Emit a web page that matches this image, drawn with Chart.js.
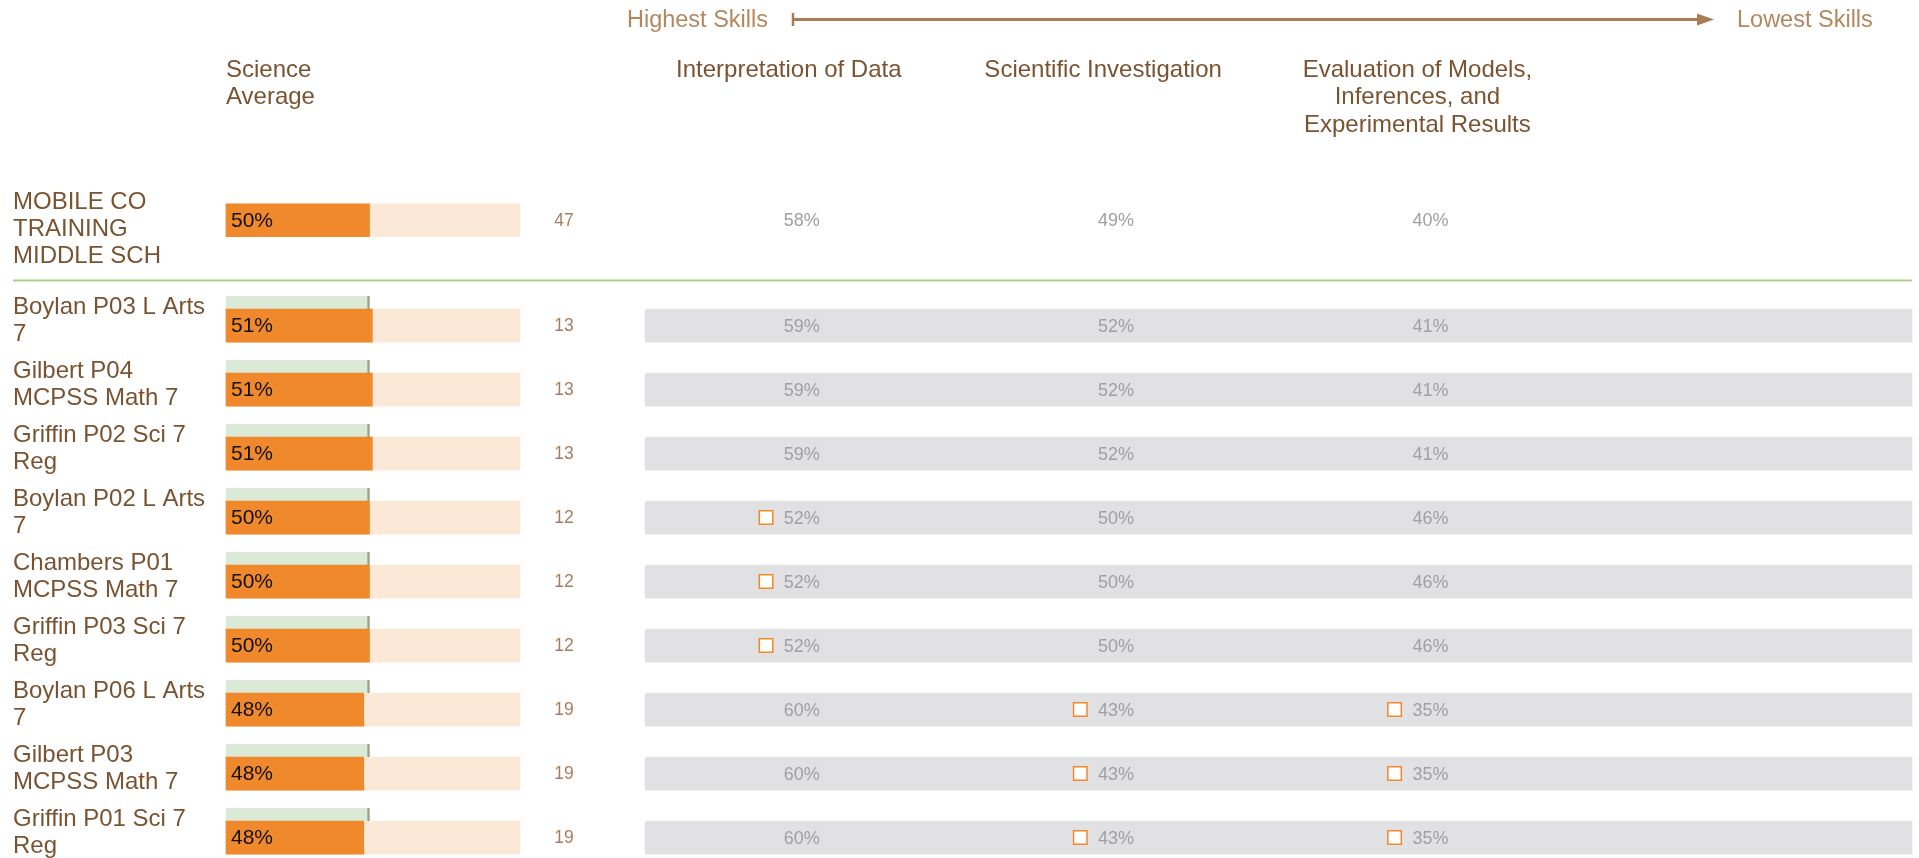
<!DOCTYPE html>
<html>
<head>
<meta charset="utf-8">
<script src="https://cdn.jsdelivr.net/npm/chart.js@4.4.1/dist/chart.umd.min.js"></script>
<style>
  html, body { margin: 0; padding: 0; background: #fff; }
  #wrap { width: 1919px; height: 858px; }
</style>
</head>
<body>
<div id="wrap"><canvas id="skillsChart"></canvas></div>
<script>
// ---- data ----
const rowLabels = [
    ['MOBILE CO', 'TRAINING', 'MIDDLE SCH'],
    ['Boylan P03 L Arts', '7'],
    ['Gilbert P04', 'MCPSS Math 7'],
    ['Griffin P02 Sci 7', 'Reg'],
    ['Boylan P02 L Arts', '7'],
    ['Chambers P01', 'MCPSS Math 7'],
    ['Griffin P03 Sci 7', 'Reg'],
    ['Boylan P06 L Arts', '7'],
    ['Gilbert P03', 'MCPSS Math 7'],
    ['Griffin P01 Sci 7', 'Reg'],
];
const scienceAverage = [50, 51, 51, 51, 50, 50, 50, 48, 48, 48];
const studentCounts = [47, 13, 13, 13, 12, 12, 12, 19, 19, 19];

const scoreHeader = ['Science', 'Average'];
const skillHeaders = [
    ['Interpretation of Data'],
    ['Scientific Investigation'],
    ['Evaluation of Models,', 'Inferences, and', 'Experimental Results'],
];
const interpretationOfData = [58, 59, 59, 59, 52, 52, 52, 60, 60, 60];
const scientificInvestigation = [49, 52, 52, 52, 50, 50, 50, 43, 43, 43];
const evaluationOfModels = [40, 41, 41, 41, 46, 46, 46, 35, 35, 35];
// cells marked with an open square
const interpretationFlags = [0, 0, 0, 0, 1, 1, 1, 0, 0, 0];
const investigationFlags = [0, 0, 0, 0, 0, 0, 0, 1, 1, 1];
const evaluationFlags = [0, 0, 0, 0, 0, 0, 0, 1, 1, 1];

const arrowLeftText = 'Highest Skills';
const arrowRightText = 'Lowest Skills';

// ---- layout / style ----
const skillValues = [interpretationOfData, scientificInvestigation, evaluationOfModels];
const skillFlags = [interpretationFlags, investigationFlags, evaluationFlags];

const ORANGE = '#f0892b';
const TRACK = '#fbe8d6';
const GREEN = '#dbe9d7';
const TICK = '#98a487';
const BAND = '#e1e1e3';
const BROWN = '#7a5331';
const TAN = '#a97d5c';
const GREY_TEXT = '#a0a0a0';
const ARROW = '#a97c52';
const FONT = (s) => s + 'px "Liberation Sans", Arial, sans-serif';

const TRACK_END = 102.4;        // end of the peach track, in score units
const BAND_START = -0.4416;     // grey band, in skill-column units
const BAND_END = 3.5896;
const GREEN_SHIFT = -0.359;     // school bar sits above each class bar
const FLAG_SHIFT = -0.0566;
const SEPARATOR = 0.94;

const rowPos = rowLabels.map((_, i) => (i === 0 ? 0 : i + 0.645));

const flagPoints = [];
skillFlags.forEach((flags, c) => {
    flags.forEach((f, i) => {
        if (f) flagPoints.push({ x: c + FLAG_SHIFT, y: rowPos[i] });
    });
});

const tableText = {
    id: 'tableText',
    afterDraw(chart) {
        const ctx = chart.ctx;
        const xs = chart.scales.xs;
        const xc = chart.scales.xc;
        const y = chart.scales.y;
        ctx.save();
        ctx.textBaseline = 'middle';

        // Highest -> Lowest arrow
        ctx.font = FONT(23.5);
        ctx.fillStyle = '#b4885f';
        ctx.textAlign = 'right';
        ctx.fillText(arrowLeftText, 768, 21);
        ctx.textAlign = 'left';
        ctx.fillText(arrowRightText, 1737, 21);
        ctx.strokeStyle = ARROW;
        ctx.fillStyle = ARROW;
        ctx.lineWidth = 3;
        ctx.beginPath();
        ctx.moveTo(792, 19.5);
        ctx.lineTo(1700, 19.5);
        ctx.stroke();
        ctx.lineWidth = 2.5;
        ctx.beginPath();
        ctx.moveTo(793, 13);
        ctx.lineTo(793, 26);
        ctx.stroke();
        ctx.beginPath();
        ctx.moveTo(1697, 13.5);
        ctx.lineTo(1714, 19.5);
        ctx.lineTo(1697, 25.5);
        ctx.closePath();
        ctx.fill();

        // column headers
        ctx.fillStyle = BROWN;
        ctx.font = FONT(24);
        ctx.textAlign = 'left';
        scoreHeader.forEach((t, k) => ctx.fillText(t, xs.getPixelForValue(0), 70 + 27.5 * k));
        ctx.textAlign = 'center';
        skillHeaders.forEach((lines, c) => {
            lines.forEach((t, k) => ctx.fillText(t, xc.getPixelForValue(c) + 5, 70 + 27.5 * k));
        });

        // separator under the school row
        ctx.strokeStyle = '#a6d38e';
        ctx.lineWidth = 2;
        ctx.beginPath();
        ctx.moveTo(13, y.getPixelForValue(SEPARATOR));
        ctx.lineTo(xc.getPixelForValue(BAND_END), y.getPixelForValue(SEPARATOR));
        ctx.stroke();

        rowLabels.forEach((lines, i) => {
            const py = y.getPixelForValue(rowPos[i]);
            ctx.fillStyle = BROWN;
            ctx.font = FONT(24);
            ctx.textAlign = 'left';
            lines.forEach((t, k) => ctx.fillText(t, 13, py - 18 + 27 * k));

            ctx.fillStyle = '#111';
            ctx.font = FONT(21);
            ctx.fillText(scienceAverage[i] + '%', xs.getPixelForValue(0) + 5, py + 1);

            ctx.fillStyle = TAN;
            ctx.font = FONT(17.5);
            ctx.textAlign = 'center';
            ctx.fillText(String(studentCounts[i]), xs.getPixelForValue(TRACK_END) + 44, py + 1);

            ctx.fillStyle = GREY_TEXT;
            ctx.font = FONT(18);
            ctx.textAlign = 'left';
            skillValues.forEach((vals, c) => {
                ctx.fillText(vals[i] + '%', xc.getPixelForValue(c), py + 1);
            });
        });
        ctx.restore();
    }
};

new Chart(document.getElementById('skillsChart'), {
    type: 'bar',
    data: {
        datasets: [
            {
                type: 'scatter',
                data: flagPoints,
                xAxisID: 'xc',
                yAxisID: 'y',
                pointStyle: 'rect',
                pointRadius: 9.5,
                pointHoverRadius: 9.5,
                pointBackgroundColor: '#ffffff',
                pointBorderColor: ORANGE,
                pointBorderWidth: 1.5,
                order: 0,
            },
            {
                label: 'Science Average',
                indexAxis: 'y',
                data: scienceAverage.map((v, i) => ({ x: v, y: rowPos[i] })),
                xAxisID: 'xs',
                yAxisID: 'y',
                backgroundColor: ORANGE,
                barThickness: 33,
                grouped: false,
                order: 1,
            },
            {
                label: 'School Average',
                indexAxis: 'y',
                data: rowPos.slice(1).map(p => ({ x: scienceAverage[0], y: p + GREEN_SHIFT })),
                xAxisID: 'xs',
                yAxisID: 'y',
                backgroundColor: GREEN,
                borderColor: TICK,
                borderWidth: { top: 0, right: 2.5, bottom: 0, left: 0 },
                borderSkipped: false,
                barThickness: 13,
                grouped: false,
                order: 2,
            },
            {
                label: 'Track',
                indexAxis: 'y',
                data: rowPos.map(p => ({ x: TRACK_END, y: p })),
                xAxisID: 'xs',
                yAxisID: 'y',
                backgroundColor: TRACK,
                barThickness: 33,
                grouped: false,
                order: 3,
            },
            {
                label: 'Band',
                indexAxis: 'y',
                data: rowPos.slice(1).map(p => ({ x: [BAND_START, BAND_END], y: p })),
                xAxisID: 'xc',
                yAxisID: 'y',
                backgroundColor: BAND,
                barThickness: 33,
                grouped: false,
                order: 4,
            },
        ],
    },
    options: {
        indexAxis: 'y',
        responsive: true,
        maintainAspectRatio: false,
        animation: false,
        layout: { padding: 0, autoPadding: false },
        scales: {
            y: {
                type: 'linear',
                reverse: true,
                min: -3.442,
                max: 9.964,
                offset: false,
                display: false,
            },
            xs: {
                type: 'linear',
                axis: 'x',
                min: -78.75,
                max: 589.9,
                offset: false,
                display: false,
            },
            xc: {
                type: 'linear',
                axis: 'x',
                min: -2.494,
                max: 3.612,
                offset: false,
                display: false,
            },
        },
        plugins: {
            legend: { display: false },
            tooltip: { enabled: false },
        },
    },
    plugins: [tableText],
});
</script>
</body>
</html>
